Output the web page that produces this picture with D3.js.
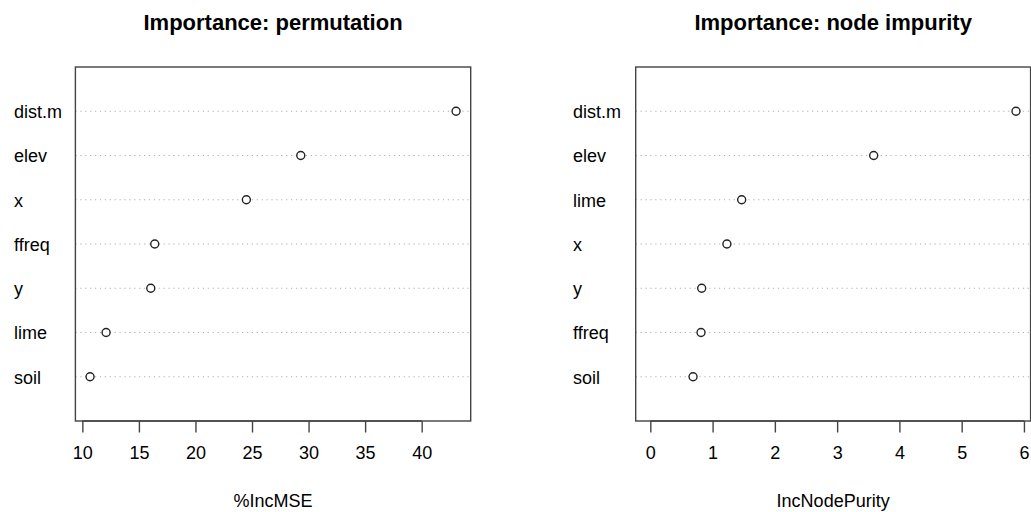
<!DOCTYPE html>
<html>
<head>
<meta charset="utf-8">
<script src="https://cdn.jsdelivr.net/npm/d3@7"></script>
<style>
  html, body { margin: 0; padding: 0; background: #fff; }
  svg text { font-family: "Liberation Sans", Arial, Helvetica, sans-serif; fill: #000; }
</style>
</head>
<body>
<svg id="chart" width="1031" height="512"></svg>
<script>
// Variable importance from a random forest, two measures (top to bottom order)
const permLabels = ["dist.m", "elev", "x", "ffreq", "y", "lime", "soil"];
const permValues = [43.04, 29.31, 24.50, 16.40, 16.05, 12.10, 10.68];

const purityLabels = ["dist.m", "elev", "lime", "x", "y", "ffreq", "soil"];
const purityValues = [5.872, 3.587, 1.467, 1.23, 0.825, 0.814, 0.686];

const permTicks = [10, 15, 20, 25, 30, 35, 40];
const purityTicks = [0, 1, 2, 3, 4, 5, 6];

const svg = d3.select("#chart");

const panels = [
  {
    title: "Importance: permutation",
    xlab: "%IncMSE",
    labels: permLabels,
    values: permValues,
    ticks: permTicks,
    baseDomain: d3.extent(permValues),
    box: { left: 75.4, right: 470.7 },
    labelX: 14
  },
  {
    title: "Importance: node impurity",
    xlab: "IncNodePurity",
    labels: purityLabels,
    values: purityValues,
    ticks: purityTicks,
    baseDomain: [0, d3.max(purityValues)],
    box: { left: 635.7, right: 1030.6 },
    labelX: 573
  }
];

const boxTop = 67, boxBottom = 421;
const fontSize = 18;

panels.forEach(p => {
  const [lo, hi] = p.baseDomain;
  const pad = (hi - lo) * 0.04;
  const x = d3.scaleLinear().domain([lo - pad, hi + pad]).range([p.box.left, p.box.right]);
  const n = p.labels.length;
  // rows: 1 at bottom, n at top; plotting range 0..n+1
  const y = d3.scaleLinear().domain([0, n + 1]).range([boxBottom, boxTop]);

  const g = svg.append("g");

  // dotted guide lines
  g.selectAll("line.guide")
    .data(p.values)
    .join("line")
    .attr("class", "guide")
    .attr("x1", p.box.left)
    .attr("x2", p.box.right)
    .attr("y1", (d, i) => y(n - i))
    .attr("y2", (d, i) => y(n - i))
    .attr("stroke", "#b0b0b0")
    .attr("stroke-width", 1.2)
    .attr("stroke-dasharray", "1.2 3.7");

  // points
  g.selectAll("circle")
    .data(p.values)
    .join("circle")
    .attr("cx", d => x(d))
    .attr("cy", (d, i) => y(n - i))
    .attr("r", 4)
    .attr("fill", "#fff")
    .attr("stroke", "#222")
    .attr("stroke-width", 1.4);

  // row labels, left aligned
  g.selectAll("text.rowlab")
    .data(p.labels)
    .join("text")
    .attr("class", "rowlab")
    .attr("x", p.labelX)
    .attr("y", (d, i) => y(n - i))
    .attr("dy", "0.38em")
    .attr("font-size", fontSize)
    .text(d => d);

  // frame
  g.append("rect")
    .attr("x", p.box.left)
    .attr("y", boxTop)
    .attr("width", p.box.right - p.box.left)
    .attr("height", boxBottom - boxTop)
    .attr("fill", "none")
    .attr("stroke", "#444")
    .attr("stroke-width", 1.4);

  // bottom axis
  const axis = d3.axisBottom(x)
    .tickValues(p.ticks)
    .tickSize(11.5)
    .tickPadding(14)
    .tickFormat(d3.format("d"));
  const ax = g.append("g")
    .attr("transform", `translate(0,${boxBottom})`)
    .call(axis);
  ax.select(".domain")
    .attr("d", `M${x(p.ticks[0])},0H${x(p.ticks[p.ticks.length - 1])}`)
    .attr("stroke", "#444")
    .attr("stroke-width", 1.4);
  ax.selectAll(".tick line").attr("stroke", "#444").attr("stroke-width", 1.4);
  ax.selectAll(".tick text")
    .attr("font-size", fontSize)
    .attr("font-family", "Liberation Sans, Arial, sans-serif")
    .attr("fill", "#000");

  const cx = (p.box.left + p.box.right) / 2;

  // title
  g.append("text")
    .attr("x", cx)
    .attr("y", 29.5)
    .attr("text-anchor", "middle")
    .attr("font-size", 22)
    .attr("font-weight", "bold")
    .text(p.title);

  // axis title
  g.append("text")
    .attr("x", cx)
    .attr("y", 507)
    .attr("text-anchor", "middle")
    .attr("font-size", fontSize)
    .text(p.xlab);
});
</script>
</body>
</html>
